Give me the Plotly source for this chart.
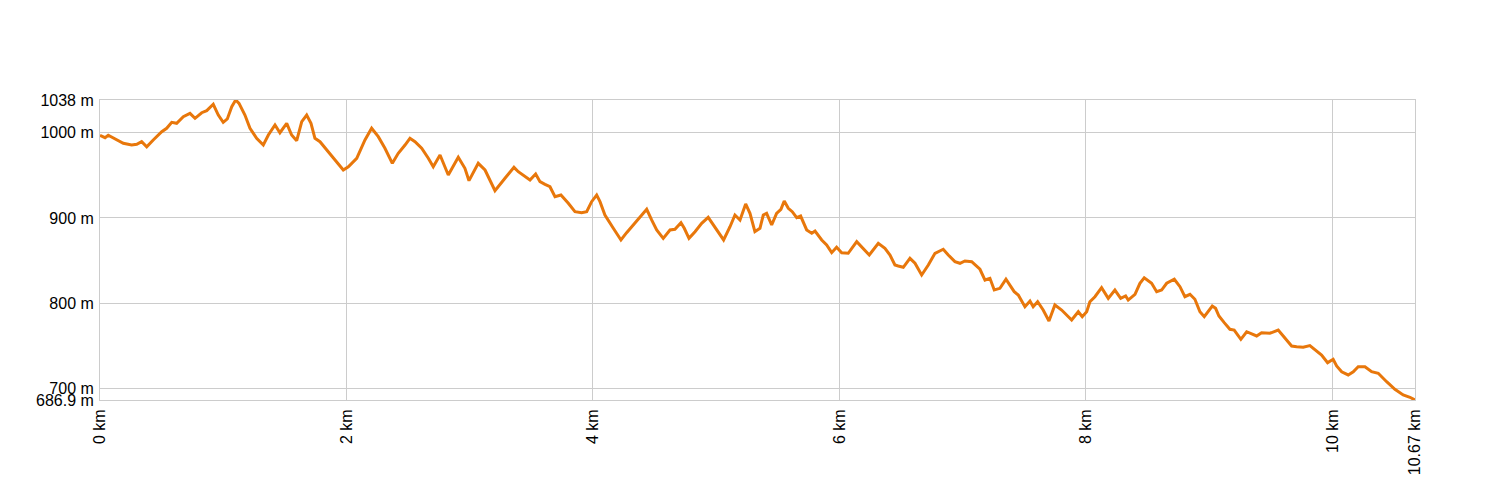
import plotly.graph_objects as go

distance_km = [
    0.000, 0.041, 0.067, 0.108, 0.189, 0.257, 0.298, 0.338, 0.379, 0.432,
    0.501, 0.541, 0.582, 0.622, 0.676, 0.730, 0.771, 0.825, 0.866, 0.919,
    0.960, 1.000, 1.033, 1.069, 1.101, 1.128, 1.176, 1.217, 1.271, 1.325,
    1.366, 1.420, 1.460, 1.515, 1.555, 1.596, 1.637, 1.677, 1.712, 1.744,
    1.785, 1.852, 1.907, 1.974, 2.015, 2.083, 2.150, 2.204, 2.258, 2.312,
    2.372, 2.420, 2.475, 2.515, 2.556, 2.610, 2.664, 2.704, 2.759, 2.826,
    2.907, 2.961, 2.994, 3.069, 3.124, 3.205, 3.286, 3.359, 3.394, 3.489,
    3.535, 3.570, 3.611, 3.651, 3.692, 3.740, 3.800, 3.854, 3.908, 3.949,
    3.989, 4.030, 4.057, 4.097, 4.165, 4.227, 4.273, 4.341, 4.395, 4.436,
    4.476, 4.517, 4.570, 4.625, 4.665, 4.714, 4.741, 4.779, 4.828, 4.882,
    4.935, 4.990, 5.060, 5.112, 5.152, 5.193, 5.239, 5.274, 5.314, 5.355,
    5.382, 5.409, 5.450, 5.490, 5.525, 5.552, 5.585, 5.617, 5.653, 5.685,
    5.734, 5.775, 5.802, 5.856, 5.896, 5.937, 5.977, 6.018, 6.071, 6.140,
    6.180, 6.242, 6.315, 6.369, 6.410, 6.450, 6.477, 6.518, 6.572, 6.613,
    6.667, 6.721, 6.775, 6.842, 6.883, 6.937, 6.978, 7.018, 7.073, 7.140,
    7.181, 7.221, 7.256, 7.302, 7.351, 7.383, 7.418, 7.451, 7.505, 7.546,
    7.572, 7.608, 7.653, 7.700, 7.748, 7.803, 7.884, 7.938, 7.970, 8.006,
    8.032, 8.073, 8.127, 8.181, 8.235, 8.282, 8.322, 8.343, 8.398, 8.438,
    8.473, 8.533, 8.574, 8.614, 8.655, 8.717, 8.763, 8.803, 8.844, 8.884,
    8.925, 8.960, 9.025, 9.052, 9.079, 9.122, 9.168, 9.203, 9.257, 9.304,
    9.357, 9.385, 9.425, 9.493, 9.560, 9.615, 9.669, 9.710, 9.763, 9.817,
    9.858, 9.912, 9.961, 10.006, 10.034, 10.075, 10.128, 10.169, 10.209, 10.264,
    10.318, 10.372, 10.440, 10.507, 10.574, 10.629, 10.670,
]

elevation_m = [
    996.5, 993.9, 996.7, 993.2, 987.3, 985.3, 986.2, 989.2, 983.3, 991.2,
    1000.9, 1004.9, 1011.9, 1010.7, 1018.5, 1022.4, 1016.6, 1023.1, 1025.5, 1033.0,
    1020.4, 1011.9, 1015.8, 1030.2, 1038.0, 1034.1, 1020.4, 1004.9, 993.2, 985.3,
    997.0, 1008.7, 999.7, 1010.7, 997.0, 990.4, 1012.6, 1020.4, 1010.7, 993.2,
    989.2, 977.5, 967.8, 956.1, 959.9, 969.8, 991.2, 1004.9, 995.1, 981.5,
    963.9, 975.6, 985.3, 993.2, 989.2, 981.5, 969.8, 959.9, 973.6, 950.2,
    970.9, 958.1, 943.6, 963.9, 956.1, 931.9, 946.4, 959.2, 954.1, 944.4,
    951.4, 942.4, 939.3, 936.5, 924.8, 926.8, 917.1, 907.3, 906.1, 907.3,
    919.0, 926.8, 919.0, 903.4, 887.9, 874.2, 882.7, 893.7, 902.2, 910.1,
    897.6, 885.9, 876.1, 885.9, 886.7, 894.4, 887.9, 876.1, 883.9, 893.7,
    900.7, 889.7, 874.2, 889.7, 903.4, 897.6, 916.3, 905.4, 883.9, 887.9,
    903.4, 905.4, 891.7, 905.4, 910.1, 919.8, 911.3, 907.3, 900.3, 902.2,
    885.9, 882.0, 884.7, 874.2, 868.3, 859.3, 865.6, 859.3, 858.6, 872.2,
    866.3, 856.6, 870.3, 864.4, 856.6, 844.9, 843.7, 842.2, 852.7, 846.9,
    833.2, 844.9, 858.6, 863.3, 856.6, 848.8, 846.9, 849.6, 848.8, 839.9,
    827.3, 829.3, 815.6, 817.6, 828.2, 821.5, 813.7, 809.8, 796.1, 802.8,
    796.1, 801.9, 792.2, 779.4, 798.1, 792.2, 780.5, 790.2, 784.4, 790.2,
    801.9, 807.8, 818.3, 805.9, 815.6, 805.9, 808.6, 803.9, 810.6, 823.5,
    830.0, 823.5, 813.7, 815.6, 823.5, 828.2, 819.5, 807.8, 810.6, 804.8,
    790.2, 784.4, 796.9, 794.2, 785.2, 777.4, 769.6, 768.8, 757.9, 766.8,
    763.0, 761.8, 765.7, 765.0, 768.8, 759.1, 750.1, 749.3, 748.6, 750.5,
    745.4, 739.6, 730.6, 734.5, 726.7, 720.0, 716.2, 720.0, 725.9, 725.9,
    720.0, 718.2, 708.3, 699.4, 692.8, 690.1, 686.9,
]

y_tick_values = [686.9, 700, 800, 900, 1000, 1038]
y_tick_labels = ["686.9 m", "700 m", "800 m", "900 m", "1000 m", "1038 m"]
x_tick_values = [0, 2, 4, 6, 8, 10, 10.67]
x_tick_labels = ["0 km", "2 km", "4 km", "6 km", "8 km", "10 km", "10.67 km"]

fig = go.Figure()
fig.add_trace(go.Scatter(
    x=distance_km, y=elevation_m, mode="lines",
    line=dict(color="#E8770B", width=3),
    hoverinfo="x+y", showlegend=False,
))

fig.update_layout(
    width=1500, height=500,
    margin=dict(l=92, r=93, t=92, b=108, autoexpand=False),
    paper_bgcolor="white", plot_bgcolor="white",
    font=dict(family="Liberation Sans, Arial, sans-serif", size=16, color="#000"),
)
fig.update_xaxes(
    range=[0, 10.67], tickvals=x_tick_values, ticktext=x_tick_labels,
    tickangle=-90, showgrid=True, gridcolor="#cccccc", gridwidth=1,
    showline=True, linecolor="#cccccc", mirror=True, zeroline=False,
    ticks="", ticklabelstandoff=2,
)
fig.update_yaxes(
    range=[686.9, 1038], tickvals=y_tick_values, ticktext=y_tick_labels,
    showgrid=True, gridcolor="#cccccc", gridwidth=1,
    showline=True, linecolor="#cccccc", mirror=True, zeroline=False,
    ticks="", ticklabelstandoff=2,
)

fig.write_html("out.html")
